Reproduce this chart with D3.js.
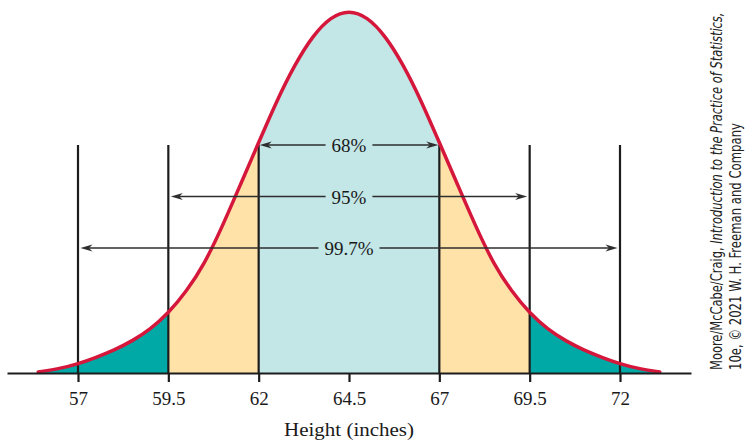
<!DOCTYPE html>
<html>
<head>
<meta charset="utf-8">
<script src="https://cdn.jsdelivr.net/npm/d3@7"></script>
<style>
  html, body { margin: 0; padding: 0; background: #fff; }
  svg { display: block; }
</style>
</head>
<body>
<svg id="chart" width="746" height="444"></svg>
<script>
// ---- data ----
const tickValues = [57, 59.5, 62, 64.5, 67, 69.5, 72];
const meanHeight = 64.5;
const curveX = [55.9, 56.5, 57, 57.5, 58, 58.5, 59, 59.5, 60, 60.5, 61, 61.5, 62, 62.5, 63, 63.5, 64,
                64.5, 65, 65.5, 66, 66.5, 67, 67.5, 68, 68.5, 69, 69.5, 70, 70.5, 71, 71.5, 72, 72.5, 73.1];
const curveY = [0.003, 0.012, 0.025, 0.043, 0.063, 0.088, 0.12, 0.165, 0.225, 0.30, 0.405, 0.52, 0.635, 0.75, 0.85, 0.93, 0.982,
                1.0, 0.982, 0.93, 0.85, 0.75, 0.635, 0.52, 0.405, 0.30, 0.225, 0.165, 0.12, 0.088, 0.063, 0.043, 0.025, 0.012, 0.003];
const rangeLabels = ["68%", "95%", "99.7%"];
const rangeLo = [62, 59.5, 57];
const rangeHi = [67, 69.5, 72];
const tailBands = [[55.0, 59.5], [69.5, 74.0]];
const midBands = [[59.5, 62], [67, 69.5]];
const centerBands = [[62, 67]];
const axisTitle = "Height (inches)";
const creditLine1 = ["Moore/McCabe/Craig, ", "Introduction to the Practice of Statistics,"];
const creditLine2 = "10e, \u00A9 2021 W. H. Freeman and Company";

// ---- layout ----
const svg = d3.select("#chart");
const baseY = 373;
const x = d3.scaleLinear().domain([55.035, 73.965]).range([7, 691]);
const y = d3.scaleLinear().domain([0, 1]).range([baseY, 10]);
const pts = curveX.map((v, i) => [v, curveY[i]]);

const colors = { tail: "#00a8a6", mid: "#fee2a7", center: "#c3e6e7", red: "#d5173c", ink: "#1c1c1c" };
const serif = "'Liberation Serif', 'Times New Roman', serif";

const defs = svg.append("defs");
function makeClip(id, bands) {
  const cp = defs.append("clipPath").attr("id", id);
  bands.forEach(b => cp.append("rect")
    .attr("x", x(b[0])).attr("y", 0)
    .attr("width", x(b[1]) - x(b[0])).attr("height", baseY + 1));
}
makeClip("clipTail", tailBands);
makeClip("clipMid", midBands);
makeClip("clipCenter", centerBands);

const area = d3.area().x(d => x(d[0])).y0(baseY).y1(d => y(d[1])).curve(d3.curveBasis);
const line = d3.line().x(d => x(d[0])).y(d => y(d[1])).curve(d3.curveBasis);

[["clipTail", colors.tail], ["clipMid", colors.mid], ["clipCenter", colors.center]].forEach(([id, c]) => {
  svg.append("path").datum(pts).attr("d", area).attr("fill", c).attr("clip-path", `url(#${id})`);
});

// vertical reference lines
const lineTop = 145;
svg.append("g").selectAll("line")
  .data(tickValues.filter(v => v !== meanHeight))
  .join("line")
  .attr("x1", d => x(d)).attr("x2", d => x(d))
  .attr("y1", lineTop).attr("y2", baseY)
  .attr("stroke", colors.ink).attr("stroke-width", 2.2);

// curve
svg.append("path").datum(pts).attr("d", line)
  .attr("fill", "none").attr("stroke", colors.red).attr("stroke-width", 3.5)
  .attr("stroke-linecap", "round");

// arrows with labels
const arrowColor = "#2e2e2e";
function arrowHead(tx, ty, dir) {
  const L = 12, W = 3.6, N = 8.5;
  return `M${tx},${ty} L${tx - dir * L},${ty - W} L${tx - dir * N},${ty} L${tx - dir * L},${ty + W} Z`;
}
rangeLabels.forEach((lab, i) => {
  const ry = lineTop + i * 51.5;
  const g = svg.append("g");
  const t = g.append("text")
    .attr("x", x(meanHeight)).attr("y", ry + 7)
    .attr("text-anchor", "middle")
    .attr("font-family", serif).attr("font-size", 19).attr("fill", "#1a1a1a")
    .text(lab);
  const w = t.node().getComputedTextLength();
  const xl = x(rangeLo[i]) + (i === 0 ? 1 : 2.5);
  const xr = x(rangeHi[i]) - (i === 0 ? 1 : 2.5);
  const gap = w / 2 + 6;
  g.append("line").attr("x1", xl + 6).attr("x2", x(meanHeight) - gap).attr("y1", ry).attr("y2", ry)
    .attr("stroke", arrowColor).attr("stroke-width", 1.5);
  g.append("line").attr("x1", x(meanHeight) + gap).attr("x2", xr - 6).attr("y1", ry).attr("y2", ry)
    .attr("stroke", arrowColor).attr("stroke-width", 1.5);
  g.append("path").attr("d", arrowHead(xl, ry, -1)).attr("fill", arrowColor);
  g.append("path").attr("d", arrowHead(xr, ry, 1)).attr("fill", arrowColor);
});

// axis
const axis = d3.axisBottom(x).tickValues(tickValues).tickSize(9).tickSizeOuter(0).tickPadding(9.5)
  .tickFormat(d => String(d));
const ag = svg.append("g").attr("transform", `translate(0,${baseY})`).call(axis);
ag.select(".domain").attr("stroke", colors.ink).attr("stroke-width", 2.2);
ag.selectAll(".tick line").attr("stroke", colors.ink).attr("stroke-width", 2.2);
ag.selectAll(".tick text").attr("font-family", serif).attr("font-size", 19).attr("fill", "#1a1a1a");

// axis title
const at = svg.append("text")
  .attr("text-anchor", "middle")
  .attr("font-family", serif).attr("font-size", 19).attr("fill", "#1a1a1a")
  .text(axisTitle);
const atw = at.node().getComputedTextLength();
at.attr("transform", `translate(${x(meanHeight)},436) scale(${130 / atw},1)`);

// credit text
const creditFont = "'Liberation Sans Narrow', 'DejaVu Sans Condensed', 'Liberation Sans', sans-serif";
const c1 = svg.append("text").attr("font-family", creditFont).attr("font-size", 15).attr("fill", "#222");
c1.append("tspan").text(creditLine1[0]);
c1.append("tspan").attr("font-style", "italic").text(creditLine1[1]);
const c1w = c1.node().getComputedTextLength();
c1.attr("transform", `translate(722,370) rotate(-90) scale(${358 / c1w},1)`);
const c2 = svg.append("text").attr("font-family", creditFont).attr("font-size", 15).attr("fill", "#222")
  .text(creditLine2);
const c2w = c2.node().getComputedTextLength();
c2.attr("transform", `translate(741,370) rotate(-90) scale(${247 / c2w},1)`);
</script>
</body>
</html>
